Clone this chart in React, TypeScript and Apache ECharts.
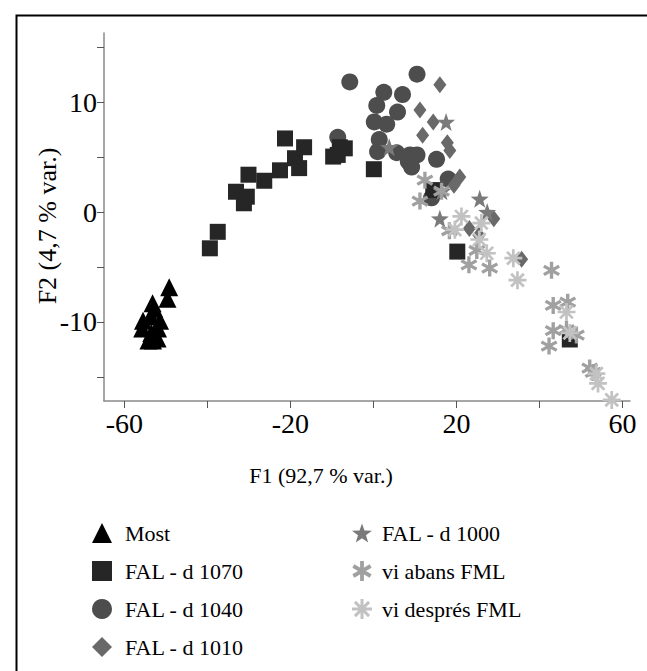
import { useEffect, useRef } from 'react';
import * as echarts from 'echarts';

// ---- data (F1, F2) ----
const mostPts = [[-49.2,-6.85],[-49.6,-7.9],[-53.2,-8.3],[-52.8,-8.8],[-55.5,-9.9],[-51.4,-9.9],[-53.5,-9.5],[-55.7,-10.6],[-51.9,-10.6],[-53.5,-11.0],[-53.1,-11.7],[-52.0,-11.5],[-54.2,-11.7]];
const d1070Pts = [[-39.4,-3.3],[-37.5,-1.8],[-33.1,1.85],[-30.5,1.4],[-31.2,0.8],[-30.1,3.4],[-26.3,2.85],[-22.5,3.8],[-21.3,6.7],[-18.9,4.9],[-17.9,4.0],[-16.7,5.9],[-8.1,5.9],[-9.7,5.05],[-6.9,5.8],[-8.6,5.2],[0.1,3.9],[14.4,2.0],[20.2,-3.6],[47.3,-11.6]];
const d1040Pts = [[-5.7,11.85],[10.5,12.55],[2.5,10.9],[7.0,10.7],[0.8,9.7],[5.8,9.1],[0.2,8.2],[3.2,8.0],[1.4,6.6],[1.0,5.5],[5.6,5.4],[8.8,5.2],[10.5,5.2],[8.4,4.6],[9.2,4.1],[15.2,4.8],[18.0,3.0],[14.0,1.3],[-8.6,6.8]];
const d1010Pts = [[16.0,11.6],[11.2,9.3],[14.4,8.2],[11.85,7.0],[17.8,6.3],[18.4,5.6],[20.8,3.2],[19.4,2.45],[29.0,-0.6],[23.1,-1.5],[25.4,-2.1],[35.7,-4.3]];
const d1000Pts = [[17.5,8.2],[3.8,5.9],[25.6,1.2],[16.5,1.9],[16.0,-0.6],[27.4,0.0]];
const viAbansPts = [[12.4,2.9],[11.2,1.0],[16.4,1.9],[18.3,-1.7],[24.9,-3.5],[23.0,-4.8],[28.0,-5.1],[42.9,-5.3],[43.3,-8.5],[46.8,-8.2],[43.3,-10.8],[46.5,-10.7],[48.9,-11.2],[42.3,-12.2],[52.1,-14.2],[52.9,-14.6]];
const viDespresPts = [[21.2,-0.4],[19.6,-1.6],[25.5,-2.5],[26.0,-1.0],[27.3,-3.75],[33.7,-4.2],[34.7,-6.2],[46.5,-9.1],[47.3,-11.0],[53.7,-14.7],[54.1,-15.6],[57.4,-17.1]];

const seriesNames = ['Most', 'FAL - d 1070', 'FAL - d 1040', 'FAL - d 1010', 'FAL - d 1000', 'vi abans FML', 'vi després FML'];
const legendCol1 = ['Most', 'FAL - d 1070', 'FAL - d 1040', 'FAL - d 1010'];
const legendCol2 = ['FAL - d 1000', 'vi abans FML', 'vi després FML'];

const xTicks = [-60, -40, -20, 0, 20, 40, 60];
const xLabels = [-60, -20, 20, 60];
const yTicks = [-15, -10, -5, 0, 5, 10, 15];
const yLabels = [-10, 0, 10];
const xTitle = 'F1 (92,7 % var.)';
const yTitle = 'F2 (4,7 % var.)';

const STAR = 'path://M10 0 L12.35 6.76 L19.51 6.91 L13.8 11.24 L15.88 18.09 L10 14 L4.12 18.09 L6.2 11.24 L0.49 6.91 L7.65 6.76 Z';
const AST6 = 'path://M11.9 0 L11.9 20 L8.1 20 L8.1 0 Z M2.29 3.36 L19.61 13.36 L17.71 16.65 L0.39 6.65 Z M19.61 6.65 L2.29 16.65 L0.39 13.36 L17.71 3.36 Z';
const AST8 = 'path://M0 8.5 L20 8.5 L20 11.5 L0 11.5 Z M11.5 0 L11.5 20 L8.5 20 L8.5 0 Z M3.99 1.87 L18.13 16.01 L16.01 18.13 L1.87 3.99 Z M18.13 3.99 L3.99 18.13 L1.87 16.01 L16.01 1.87 Z';

const FONT = '"Liberation Serif", "Times New Roman", serif';

export default function App() {
  const ref = useRef<HTMLDivElement>(null);
  useEffect(() => {
    if (!ref.current) return;
    const chart = echarts.init(ref.current, null, { renderer: 'svg' });
    const mk = (name: string, data: number[][], symbol: string, size: any, color: string) => ({
      name, type: 'scatter', data, symbol, symbolSize: size,
      itemStyle: { color, opacity: 1 }, clip: false,
    });
    const legendText = { fontSize: 22, fontFamily: FONT, color: '#000' };
    chart.setOption({
      animation: false,
      backgroundColor: '#ffffff',
      grid: { left: 104, right: 17, top: 33, bottom: 270, containLabel: false },
      xAxis: {
        type: 'value', min: -64.9, max: 61.8,
        axisLine: { show: true, onZero: false, lineStyle: { color: '#8a8a8a', width: 1.5 } },
        axisTick: { show: true, customValues: xTicks, length: 7, lineStyle: { color: '#555' } },
        axisLabel: { customValues: xLabels, fontSize: 28, fontFamily: FONT, color: '#000', margin: 8 },
        splitLine: { show: false },
      },
      yAxis: {
        type: 'value', min: -17.2, max: 16.3,
        axisLine: { show: true, onZero: false, lineStyle: { color: '#8a8a8a', width: 1.5 } },
        axisTick: { show: true, customValues: yTicks, length: 7, lineStyle: { color: '#555' } },
        axisLabel: { customValues: yLabels, fontSize: 28, fontFamily: FONT, color: '#000', margin: 7 },
        splitLine: { show: false },
      },
      legend: [
        {
          data: legendCol1, orient: 'vertical', left: 92, top: 522, height: 149, padding: 0,
          itemWidth: 20, itemHeight: 20, itemGap: 16,
          textStyle: { ...legendText, padding: [0, 0, 0, 8] },
          selectedMode: false,
        },
        {
          data: legendCol2, orient: 'vertical', left: 352, top: 522, height: 149, padding: 0,
          itemWidth: 20, itemHeight: 20, itemGap: 16,
          textStyle: { ...legendText, padding: [0, 0, 0, 5] },
          selectedMode: false,
        },
      ],
      graphic: [
        { type: 'rect', left: 14, top: 13, shape: { x: 0, y: 0, width: 700, height: 700 }, style: { fill: 'none', stroke: '#000', lineWidth: 2 }, silent: true },
        { type: 'text', x: 321, y: 475, style: { text: xTitle, fontSize: 22, fontFamily: FONT, fill: '#000', align: 'center', verticalAlign: 'middle' } },
        { type: 'text', x: 47, y: 226, rotation: Math.PI / 2, style: { text: yTitle, fontSize: 26, fontFamily: FONT, fill: '#000', align: 'center', verticalAlign: 'middle' } },
      ],
      series: [
        mk(seriesNames[0], mostPts, 'triangle', 18, '#000000'),
        mk(seriesNames[2], d1040Pts, 'circle', 17, '#4d4d4d'),
        mk(seriesNames[1], d1070Pts, 'rect', 16, '#262626'),
        mk(seriesNames[3], d1010Pts, 'diamond', [13, 17], '#696969'),
        mk(seriesNames[4], d1000Pts, STAR, 18, '#7a7a7a'),
        mk(seriesNames[5], viAbansPts, AST6, 17, '#a0a0a0'),
        mk(seriesNames[6], viDespresPts, AST8, 18, '#c2c2c2'),
      ],
    });
    return () => chart.dispose();
  }, []);
  return <div ref={ref} style={{ position: 'fixed', left: 0, top: 0, width: 647, height: 671 }} />;
}
